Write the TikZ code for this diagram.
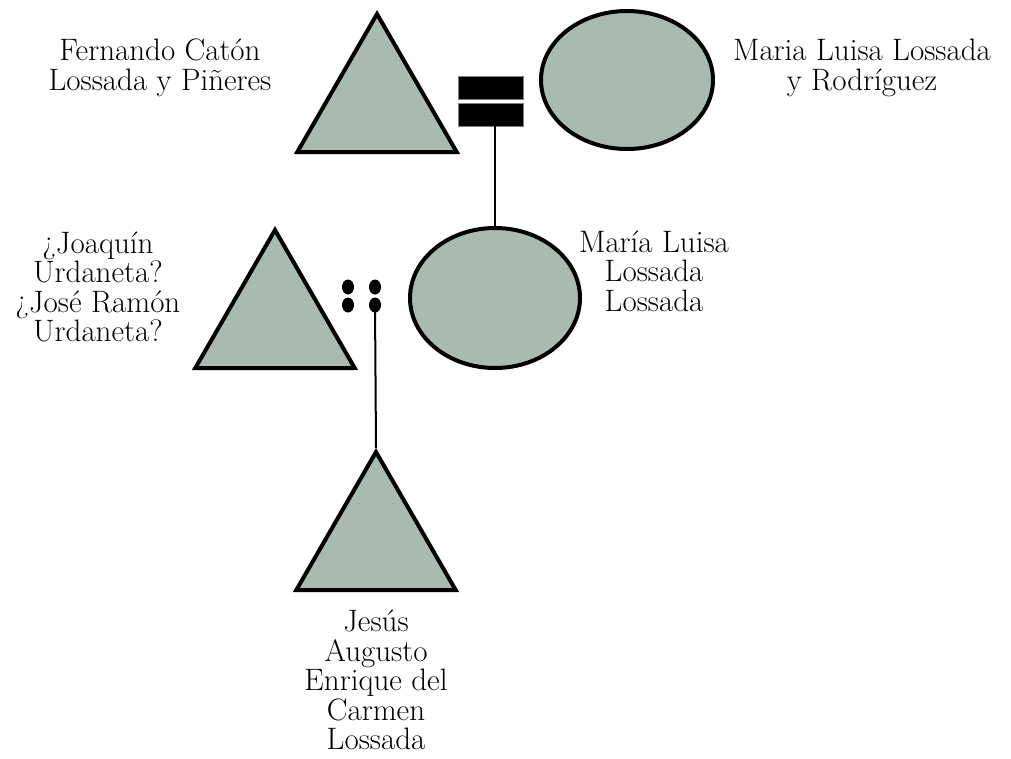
\documentclass[tikz,border=0pt]{standalone}
\usetikzlibrary{shapes.geometric}
\definecolor{figfill}{RGB}{169,187,176}
\begin{document}
\begin{tikzpicture}[x=1pt,y=-1pt,
  male/.style={regular polygon, regular polygon sides=3, minimum size=184pt, inner sep=0pt, draw=black, line width=4pt, fill=figfill},
  female/.style={ellipse, inner sep=0pt, draw=black, line width=4pt, fill=figfill},
  bar/.style={rectangle, fill=black, draw=gray, line width=0.5pt, minimum width=65pt, minimum height=23pt, inner sep=0pt},
  dot/.style={ellipse, fill=black, minimum width=12pt, minimum height=15pt, inner sep=0pt},
  link/.style={line width=2pt},
  lbl/.style={align=center, inner sep=0pt, font=\fontsize{31}{29.5}\selectfont}]
\useasboundingbox (0,0) rectangle (1011,758);
\node[male] (t1) at (377,106) {};
\node[female, minimum width=172pt, minimum height=138pt] (e1) at (627,80) {};
\node[bar] (b1) at (490.5,88) {};
\node[bar] (b2) at (490.5,114.5) {};
\node[female, minimum width=170pt, minimum height=140pt] (e2) at (495,298) {};
\node[male] (t2) at (275,322) {};
\node[dot] (d1) at (348,287) {};
\node[dot] (d2) at (348,305) {};
\node[dot] (d3) at (375,287) {};
\node[dot] (d4) at (375,305) {};
\node[male] (t3) at (376,544) {};
\draw[link] (b2.south -| e2.north) -- (e2.north);
\draw[link] (d4.center) -- (t3.corner 1);
\node[lbl] (n1) at (160,68) {Fernando Catón\\Lossada y Piñeres};
\node[lbl] (n2) at (862,68) {Maria Luisa Lossada\\y Rodríguez};
\node[lbl] (n3) at (654,271) {María Luisa\\Lossada\\Lossada};
\node[lbl] (n4) at (98,287) {¿Joaquín\\Urdaneta?\\¿José Ramón\\Urdaneta?};
\node[lbl] (n5) at (376,680) {Jesús\\Augusto\\Enrique del\\Carmen\\Lossada};
\end{tikzpicture}
\end{document}
